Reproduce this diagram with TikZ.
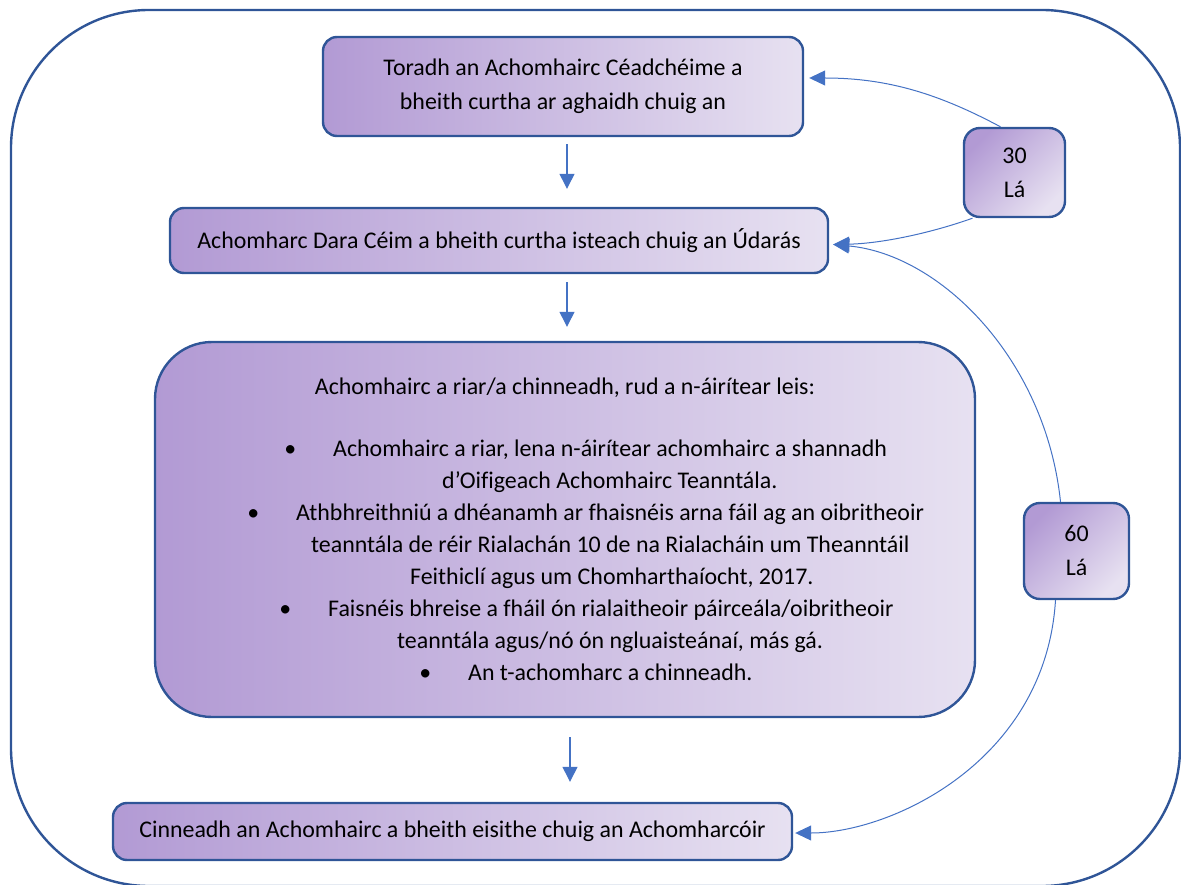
\documentclass[tikz,border=0pt]{standalone}
\usepackage{fontspec}
\setmainfont{Carlito}[Ligatures=NoCommon]
\usetikzlibrary{arrows.meta,calc}
\definecolor{marco}{RGB}{47,85,151}
\definecolor{saighid}{RGB}{68,114,196}
\definecolor{corcra}{RGB}{178,154,212}
\definecolor{liath}{RGB}{231,225,241}
\newcommand{\urphointe}{\llap{\textbullet\hspace{37pt}}}

\begin{document}
\begin{tikzpicture}[x=1pt, y=-1pt,
	every node/.style={font=\fontsize{23.9}{34}\selectfont, text=black, inner sep=0pt},
	imeall/.style={draw=marco, line width=2.4pt, align=center},
	bosca/.style={imeall, rounded corners=14pt, left color=corcra, right color=liath},
	lae/.style={imeall, rounded corners=16pt, top color=corcra, bottom color=liath, shading angle=45},
	sraith/.style={anchor=base west},
	saighead/.style={draw=saighid, line width=1.3pt, -{Triangle[length=15pt, width=15pt]}},
	cuar/.style={draw=saighid, line width=1pt, -{Triangle[length=16pt, width=15pt]}}]
	\useasboundingbox (0,0) rectangle (1181,885);
	\draw[marco, line width=2.4pt, rounded corners=138pt] (11,10) rectangle (1180,886);

	\node[bosca, minimum width=480pt, minimum height=99pt] (toradh) at (563,86.5) {Toradh an Achomhairc Céadchéime a\\bheith curtha ar aghaidh chuig an};
	\node[bosca, minimum width=658pt, minimum height=65pt] (dara) at (499,240.5) {Achomharc Dara Céim a bheith curtha isteach chuig an Údarás};
	\node[bosca, rounded corners=57pt, minimum width=820pt, minimum height=375pt] (riar) at (565,529.5) {};
	\node[bosca, minimum width=679pt, minimum height=57pt] (cinneadh) at (452.5,831.5) {Cinneadh an Achomhairc a bheith eisithe chuig an Achomharcóir};
	\node[lae, minimum width=101pt, minimum height=89pt] (triocha) at (1014.5,172.5) {30\\Lá};
	\node[lae, minimum width=105pt, minimum height=96pt] (seasca) at (1076.5,551) {60\\Lá};

	% text an bhosca mhoir
	\node[anchor=base] (riar0) at (565,395) {Achomhairc a riar/a chinneadh, rud a n-áirítear leis:};
	\node[sraith] (riar1) at (333,456) {\urphointe Achomhairc a riar, lena n-áirítear achomhairc a shannadh};
	\node[sraith] (riar2) at (442,488) {d’Oifigeach Achomhairc Teanntála.};
	\node[sraith] (riar3) at (296,520) {\urphointe Athbhreithniú a dhéanamh ar fhaisnéis arna fáil ag an oibritheoir};
	\node[sraith] (riar4) at (311,552) {teanntála de réir Rialachán 10 de na Rialacháin um Theanntáil};
	\node[sraith] (riar5) at (410,584) {Feithiclí agus um Chomharthaíocht, 2017.};
	\node[sraith] (riar6) at (328,616) {\urphointe Faisnéis bhreise a fháil ón rialaitheoir páirceála/oibritheoir};
	\node[sraith] (riar7) at (397,648) {teanntála agus/nó ón ngluaisteánaí, más gá.};
	\node[sraith] (riar8) at (468,680) {\urphointe An t-achomharc a chinneadh.};

	% saigheada
	\coordinate (ais) at (567,0);
	\coordinate (ais2) at (570,0);
	\draw[saighead, shorten <=7pt, shorten >=18pt] (toradh.south -| ais) -- (dara.north -| ais);
	\draw[saighead, shorten <=8pt, shorten >=14pt] (dara.south -| ais) -- (riar.north -| ais);
	\draw[saighead, shorten <=19pt, shorten >=20pt] (riar.south -| ais2) -- (cinneadh.north -| ais2);

	\draw[cuar] ($(triocha.north)+(-14,0)$) .. controls +(-60,-32) and +(80,0) .. ($(toradh.east)+(5,-8.5)$);
	\draw[cuar] ($(triocha.south)+(-42,0)$) .. controls +(-42,15) and +(48,-1) .. ($(dara.east)+(4,4)$);
	\draw[cuar] ($(seasca.north)+(-16,0)$) .. controls +(-15,-143) and +(107,10) .. ($(dara.east)+(4,4)$);
	\draw[cuar] ($(seasca.south)+(-21,0)$) .. controls +(-10,161) and +(96,0) .. ($(cinneadh.east)+(2,1.5)$);
\end{tikzpicture}
\end{document}
